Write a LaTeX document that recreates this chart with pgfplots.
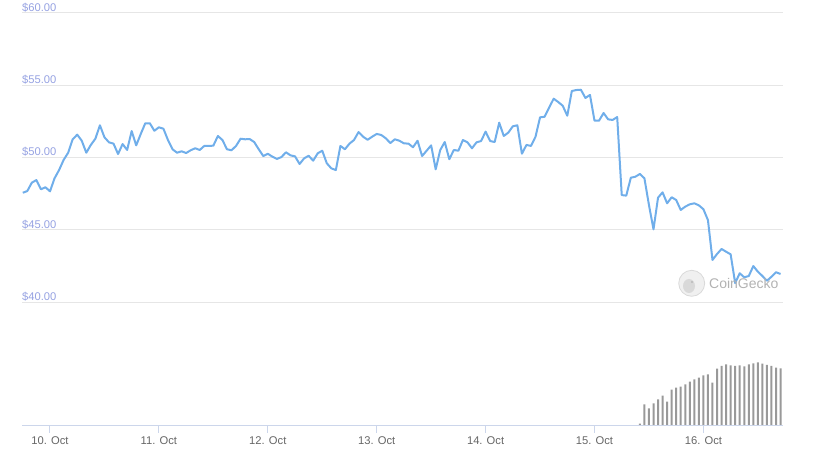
\documentclass[border=0pt]{standalone}
\usepackage{fontspec}
\setmainfont{Liberation Sans}
\usepackage{pgfplots}
\pgfplotsset{compat=1.18}
\usepackage{pgfplotstable}
\definecolor{linec}{RGB}{112,174,234}
\definecolor{gridc}{RGB}{230,230,230}
\definecolor{ylab}{RGB}{150,162,226}
\definecolor{xlab}{RGB}{102,102,102}
\definecolor{axc}{RGB}{204,214,235}
\definecolor{volc}{RGB}{153,153,153}

\pgfplotstableread{
h p
-6 47.56
-5 47.68
-4 48.26
-3 48.44
-2 47.80
-1 47.94
0 47.66
1 48.56
2 49.13
3 49.83
4 50.33
5 51.26
6 51.58
7 51.16
8 50.33
9 50.87
10 51.30
11 52.23
12 51.40
13 51.05
14 50.96
15 50.24
16 50.93
17 50.52
18 51.83
19 50.84
20 51.63
21 52.37
22 52.37
23 51.85
24 52.09
25 51.99
26 51.21
27 50.57
28 50.33
29 50.43
30 50.31
31 50.50
32 50.64
33 50.52
34 50.80
35 50.80
36 50.82
37 51.49
38 51.21
39 50.57
40 50.50
41 50.80
42 51.30
43 51.26
44 51.28
45 51.07
46 50.57
47 50.10
48 50.26
49 50.06
50 49.90
51 50.03
52 50.36
53 50.15
54 50.08
55 49.55
56 49.94
57 50.12
58 49.78
59 50.29
60 50.47
61 49.60
62 49.25
63 49.13
64 50.80
65 50.57
66 50.96
67 51.21
68 51.76
69 51.44
70 51.23
71 51.44
72 51.63
73 51.56
74 51.33
75 51.00
76 51.26
77 51.16
78 50.98
79 50.96
80 50.71
81 51.16
82 50.10
83 50.47
84 50.84
85 49.18
86 50.52
87 51.07
88 49.88
89 50.52
90 50.47
91 51.21
92 51.05
93 50.64
94 51.05
95 51.14
96 51.79
97 51.14
98 51.07
99 52.41
100 51.49
101 51.72
102 52.16
103 52.23
104 50.26
105 50.87
106 50.80
107 51.44
108 52.78
109 52.82
110 53.45
111 54.07
112 53.84
113 53.58
114 52.89
115 54.60
116 54.67
117 54.69
118 54.12
119 54.33
120 52.55
121 52.55
122 53.08
123 52.64
124 52.60
125 52.80
126 47.40
127 47.36
128 48.60
129 48.67
130 48.86
131 48.56
132 46.71
133 45.03
134 47.22
135 47.59
136 46.83
137 47.25
138 47.06
139 46.37
140 46.60
141 46.76
142 46.83
143 46.69
144 46.42
145 45.67
146 42.91
147 43.32
148 43.67
149 43.48
150 43.30
151 41.31
152 41.99
153 41.71
154 41.80
155 42.49
156 42.10
157 41.80
158 41.47
159 41.75
160 42.06
161 41.94
}\price

\pgfplotstableread{
h v
130 2.3
131 21.7
132 17.7
133 22.7
134 26.7
135 30.3
136 24.3
137 36.3
138 38.3
139 39.3
140 41.7
141 44.3
142 46.7
143 48.3
144 50.7
145 51.7
146 43.3
147 57.3
148 60.0
149 61.7
150 60.7
151 60.0
152 60.7
153 59.7
154 61.7
155 62.7
156 63.7
157 62.3
158 61.0
159 60.0
160 58.3
161 57.7
}\vol

\begin{document}
\begin{tikzpicture}
\path[use as bounding box] (-22pt,-34pt) rectangle (793pt,426pt);
% volume
\begin{axis}[anchor=south west, scale only axis,
  width=761pt, height=413pt,
  xmin=-6.17, xmax=161.54, ymin=0, ymax=413,
  hide axis]
\addplot[ybar, bar width=2pt, fill=volc, draw=none] table[x=h,y=v]{\vol};
\end{axis}
% price
\begin{axis}[anchor=south west, scale only axis,
  width=761pt, height=413pt,
  xmin=-6.17, xmax=161.54, ymin=31.42, ymax=60,
  enlargelimits=false,
  axis x line=bottom, axis y line=left,
  axis line style={-},
  x axis line style={draw=axc, line width=1pt},
  y axis line style={draw=none},
  tick align=outside, major tick length=7pt,
  x tick style={draw=axc, line width=1pt},
  y tick style={draw=none},
  xtick={0,24,48,72,96,120,144},
  xticklabels={10. Oct,11. Oct,12. Oct,13. Oct,14. Oct,15. Oct,16. Oct},
  ytick={40,45,50,55,60},
  yticklabels={\$40.00,\$45.00,\$50.00,\$55.00,\$60.00},
  ymajorgrids, grid style={draw=gridc, line width=1pt},
  xticklabel style={font=\fontsize{11.2}{13}\selectfont, text=xlab},
  yticklabel style={font=\fontsize{11.2}{13}\selectfont, text=ylab,
    anchor=base west, inner sep=0pt, xshift=7pt, yshift=1.7pt},
  ]
\addplot[linec, line width=2pt, line join=round, mark=none] table[x=h,y=p]{\price};
\end{axis}
% watermark
\fill[gray!12] (669.7pt,142.7pt) circle (13pt);
\draw[gray!30, line width=0.8pt] (669.7pt,142.7pt) circle (13pt);
\fill[gray!30] (667pt,140pt) ellipse (6pt and 7pt);
\fill[gray!55] (670pt,144pt) circle (1.2pt);
\node[anchor=west, inner sep=0pt, text=gray!60, font=\fontsize{14}{16}\selectfont] at (687pt,142.7pt) {CoinGecko};
\end{tikzpicture}
\end{document}
